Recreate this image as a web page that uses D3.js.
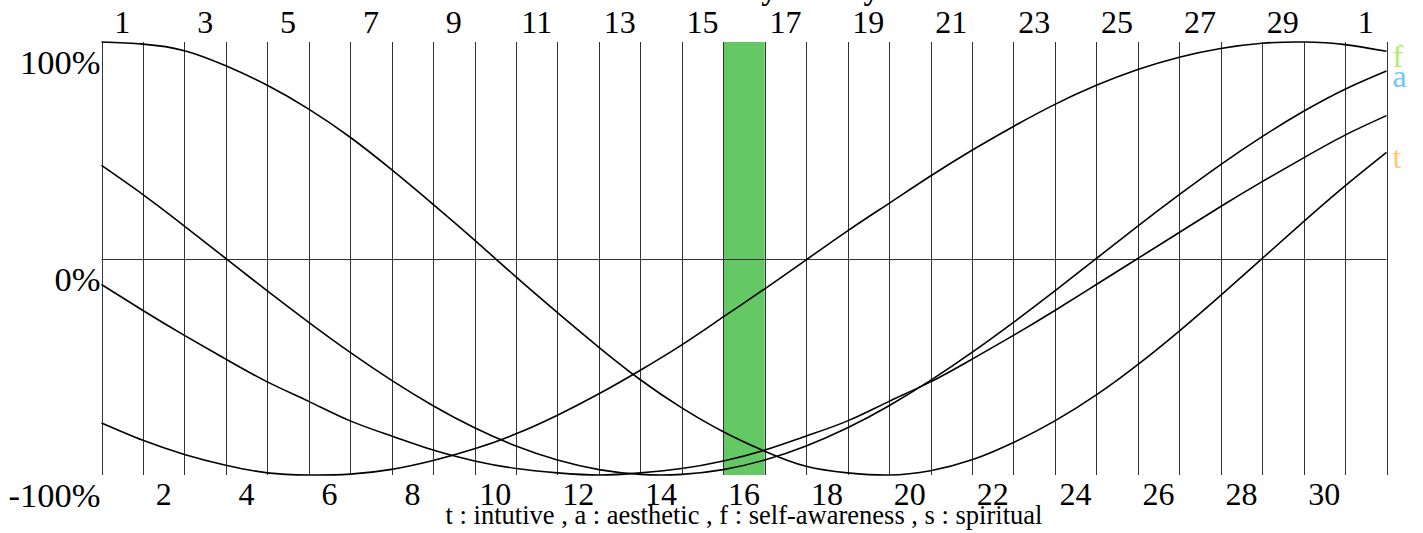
<!DOCTYPE html>
<html>
<head>
<meta charset="utf-8">
<script src="https://cdn.jsdelivr.net/npm/d3@7"></script>
<style>
  body { margin: 0; background: #ffffff; overflow: hidden; }
</style>
</head>
<body>
<div id="drawing"></div>
<script>

const width = 1423;
const height = 533;
const plot = {left: 101.5, right: 1386.5, top: 42, bottom: 475};
const serif = "'Liberation Serif', 'DejaVu Serif', 'Times New Roman', Times, serif";
let drawing;
let drawingArea;

// one label per day cell, last one is the 1st of next month
const dayLabels = ["1","2","3","4","5","6","7","8","9","10","11","12","13","14","15",
  "16","17","18","19","20","21","22","23","24","25","26","27","28","29","30","1"];
const todayIndex = 15;

// values (%) read at each of the 32 grid lines
const intuitive = [100, 99, 96, 89, 80, 69, 56, 41, 25, 8.5, -8.5, -25, -41, -56, -69, -80,
  -89, -96, -99, -100, -98, -93, -85, -75, -63, -49, -33.5, -17, 0, 17, 33.5, 49];
const aesthetic = [43, 29.5, 15, 0, -15, -29.5, -43.4, -56.3, -68, -78.2, -86.6, -93.1, -97.5, -99.7, -99.7, -97.5,
  -93.1, -86.6, -78.2, -68, -56.3, -43.4, -29.5, -15, 0, 15, 29.5, 43.4, 56.3, 68, 78.2, 86.6];
const selfAwareness = [-76, -84, -90.5, -95.5, -99, -100, -99.6, -97.4, -93.3, -87.9, -81, -72.4, -62.5, -51.6, -39.9, -27,
  -14, -0.6, 12.8, 25.5, 38.1, 50, 61, 71.2, 80, 87.3, 93, 97, 99.4, 100, 98.8, 95.7];
const spiritual = [-12, -24, -35.5, -46.5, -57, -66, -75, -82, -88.5, -93.5, -97, -99, -100, -99, -97, -93.5,
  -88.5, -82, -75, -66, -57, -46.5, -35.5, -24, -12, 0, 12, 24, 35.5, 46.5, 57, 66];

const seriesNames = ["f", "a", "t"];
const seriesColors = ["#b0ee6a", "#6cc8ff", "#ffc872"];
const yTicks = [100, 0, -100];
const legendText = "t : intutive , a : aesthetic , f : self-awareness , s : spiritual";

function setup(){
  drawing = d3.select("#drawing").append("svg")
    .attr("width", width)
    .attr("height", height)
    .style("background", "#ffffff")
    .style("font-family", serif);
  drawingArea = drawing.append("g");
}

function make(){
  const x = d3.scaleLinear().domain([0, dayLabels.length]).range([plot.left, plot.right]);
  const y = d3.scaleLinear().domain([-100, 100]).range([plot.bottom, plot.top]);

  // today band
  drawingArea.append("rect")
    .attr("x", x(todayIndex))
    .attr("y", plot.top)
    .attr("width", x(todayIndex + 1) - x(todayIndex))
    .attr("height", plot.bottom - plot.top)
    .style("fill", "#64c864");

  // vertical grid, one line per day boundary
  drawingArea.selectAll(".vgrid")
    .data(d3.range(dayLabels.length + 1))
    .enter()
    .append("line")
      .attr("class", "vgrid")
      .attr("x1", (d) => Math.round(x(d)) + 0.5)
      .attr("x2", (d) => Math.round(x(d)) + 0.5)
      .attr("y1", plot.top)
      .attr("y2", plot.bottom)
      .style("stroke", "#333")
      .style("stroke-width", 1);

  drawingArea.append("line")
    .attr("x1", plot.left)
    .attr("x2", plot.right)
    .attr("y1", Math.round(y(0)) + 0.5)
    .attr("y2", Math.round(y(0)) + 0.5)
    .style("stroke", "#333")
    .style("stroke-width", 1);

  // day labels: odd days on top, even days below
  drawingArea.selectAll(".dayLabel")
    .data(dayLabels)
    .enter()
    .append("text")
      .attr("class", "dayLabel")
      .attr("x", (d, i) => x(i + 0.5))
      .attr("y", (d, i) => i % 2 === 0 ? 33 : 505)
      .attr("text-anchor", "middle")
      .style("font-family", serif)
      .style("font-size", "32px")
      .style("fill", "#000")
      .text((d) => d);

  // y labels
  drawingArea.selectAll(".yLabel")
    .data(yTicks)
    .enter()
    .append("text")
      .attr("class", "yLabel")
      .attr("x", plot.left - 1)
      .attr("y", (d) => y(d) + 32)
      .attr("text-anchor", "end")
      .style("font-family", serif)
      .style("font-size", "34.5px")
      .style("fill", "#000")
      .text((d) => d + "%");

  // curves
  const line = d3.line()
    .x((d, i) => x(i))
    .y((d) => y(d))
    .curve(d3.curveNatural);

  const allSeries = [intuitive, aesthetic, selfAwareness, spiritual];
  drawingArea.selectAll(".bio")
    .data(allSeries)
    .enter()
    .append("path")
      .attr("class", "bio")
      .attr("d", (d) => line(d))
      .style("fill", "none")
      .style("stroke", "#000")
      .style("stroke-width", 1.6);

  // end labels
  const labelSeries = [selfAwareness, aesthetic, intuitive];
  drawingArea.selectAll(".endLabel")
    .data(seriesNames)
    .enter()
    .append("text")
      .attr("class", "endLabel")
      .attr("x", plot.right + 6)
      .attr("y", (d, i) => y(labelSeries[i][labelSeries[i].length - 1]) + 16)
      .style("font-family", serif)
      .style("font-size", "32px")
      .style("fill", (d, i) => seriesColors[i])
      .text((d) => d);

  // legend
  drawingArea.append("text")
    .attr("x", (plot.left + plot.right) / 2)
    .attr("y", 524)
    .attr("text-anchor", "middle")
    .style("font-family", serif)
    .style("font-size", "26.5px")
    .style("fill", "#000")
    .text(legendText);

  // title sits above the picture, only its descenders show
  drawingArea.append("text")
    .attr("x", (plot.left + plot.right) / 2 + 40)
    .attr("y", -1)
    .attr("text-anchor", "middle")
    .style("font-family", serif)
    .style("font-size", "32px")
    .style("font-weight", "bold")
    .style("fill", "#000")
    .text("Secondary Biorhythm");
}

setup();
make();
</script>
</body>
</html>
